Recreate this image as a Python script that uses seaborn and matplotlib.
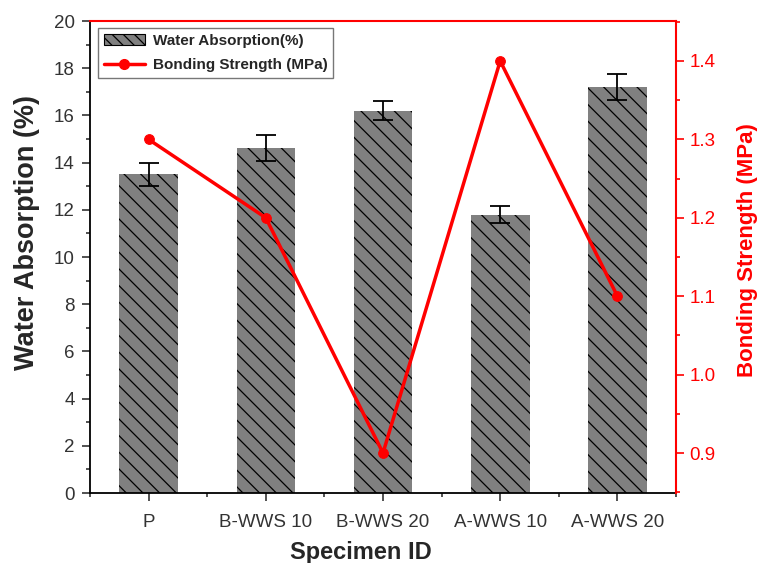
import matplotlib
matplotlib.use("Agg")
import matplotlib.pyplot as plt
import seaborn as sns
import pandas as pd
import numpy as np
from matplotlib.ticker import MultipleLocator
from matplotlib.patches import Patch
from matplotlib.lines import Line2D

categories = ["P", "B-WWS 10", "B-WWS 20", "A-WWS 10", "A-WWS 20"]
water_absorption = [13.5, 14.6, 16.2, 11.8, 17.2]
water_err = [0.5, 0.55, 0.4, 0.35, 0.55]
bonding_strength = [1.3, 1.2, 0.9, 1.4, 1.1]

sns.set_style("white")
plt.rcParams['font.family'] = ['Liberation Sans', 'DejaVu Sans']
plt.rcParams['hatch.linewidth'] = 0.9

df = pd.DataFrame({"Specimen": categories, "WA": water_absorption,
                   "BS": bonding_strength})

fig = plt.figure(figsize=(7.61, 5.63), dpi=100)
ax = fig.add_axes([90/761, 1-493/563, (676-90)/761, (493-21)/563])

sns.barplot(data=df, x="Specimen", y="WA", color="#808080", width=0.5,
            saturation=1, ax=ax, errorbar=None, edgecolor="#808080", linewidth=0)
for p in ax.patches:
    p.set_hatch("\\\\")
    p.set_edgecolor("black")
    p.set_linewidth(0)
ax.errorbar(np.arange(len(categories)), water_absorption, yerr=water_err,
            fmt="none", ecolor="black", elinewidth=1.3, capsize=7, capthick=1.3)

ax.set_xlim(-0.5, 4.5)
ax.set_ylim(0, 20)
ax.yaxis.set_major_locator(MultipleLocator(2))
ax.yaxis.set_minor_locator(MultipleLocator(1))
ax.xaxis.set_minor_locator(MultipleLocator(0.5))
ax.tick_params(axis="both", which="major", direction="out", length=6, width=1.2,
               labelsize=13.5, colors="#333333", left=True, bottom=True)
ax.tick_params(axis="both", which="minor", direction="out", length=3, width=1.2,
               left=True, bottom=True, colors="#333333")
ax.tick_params(axis="x", pad=9)
ax.tick_params(axis="y", pad=5)
ax.set_xlabel("Specimen ID", fontsize=17, fontweight="bold")
ax.xaxis.set_label_coords((361-90)/586, -(541-493)/472)
ax.set_ylabel("Water Absorption (%)", fontsize=19.5, fontweight="bold")
ax.yaxis.set_label_coords(-(90-40)/586, (493-233)/472)
for s in ["left", "bottom"]:
    ax.spines[s].set_color("black")
    ax.spines[s].set_linewidth(1.3)

ax2 = ax.twinx()
sns.lineplot(data=df, x="Specimen", y="BS", ax=ax2, color="red", marker="o",
             markersize=7, linewidth=2.5, markeredgecolor="red", sort=False)
ax2.set_ylim(0.849, 1.451)
ax2.yaxis.set_major_locator(MultipleLocator(0.1))
ax2.yaxis.set_minor_locator(MultipleLocator(0.05))
ax2.yaxis.set_major_formatter(matplotlib.ticker.FormatStrFormatter("%.1f"))
ax2.tick_params(axis="y", which="major", direction="out", length=6, width=1.2,
                labelsize=13.5, colors="red", right=True)
ax2.tick_params(axis="y", which="minor", direction="out", length=3, width=1.2,
                colors="red", right=True)
ax2.set_ylabel("Bonding Strength (MPa)", fontsize=16, fontweight="bold",
               color="red")
ax2.yaxis.set_label_coords(1 + (737-676)/586, (493-250)/472)
ax2.spines["right"].set_color("red")
ax2.spines["right"].set_linewidth(1.5)
ax2.spines["top"].set_color("red")
ax2.spines["top"].set_linewidth(1.5)
ax2.spines["left"].set_visible(False)
ax2.spines["bottom"].set_visible(False)
ax.spines["top"].set_visible(False)
ax.spines["right"].set_visible(False)
ax2.set_xlim(-0.5, 4.5)

handles = [Patch(facecolor="#808080", edgecolor="black", hatch="\\\\\\", linewidth=0.8),
           Line2D([], [], color="red", marker="o", linewidth=2.5, markersize=7)]
leg = ax2.legend(handles, ["Water Absorption(%)", "Bonding Strength (MPa)"],
                 loc="upper left", bbox_to_anchor=(0.005, 0.995), fontsize=11,
                 frameon=True, fancybox=False, edgecolor="#555555",
                 handlelength=2.7, handletextpad=0.5, borderpad=0.4,
                 labelspacing=0.65, borderaxespad=0.3)
for t in leg.get_texts():
    t.set_fontweight("bold")
leg.get_frame().set_linewidth(1.0)

fig.savefig("out.png", dpi=100)
